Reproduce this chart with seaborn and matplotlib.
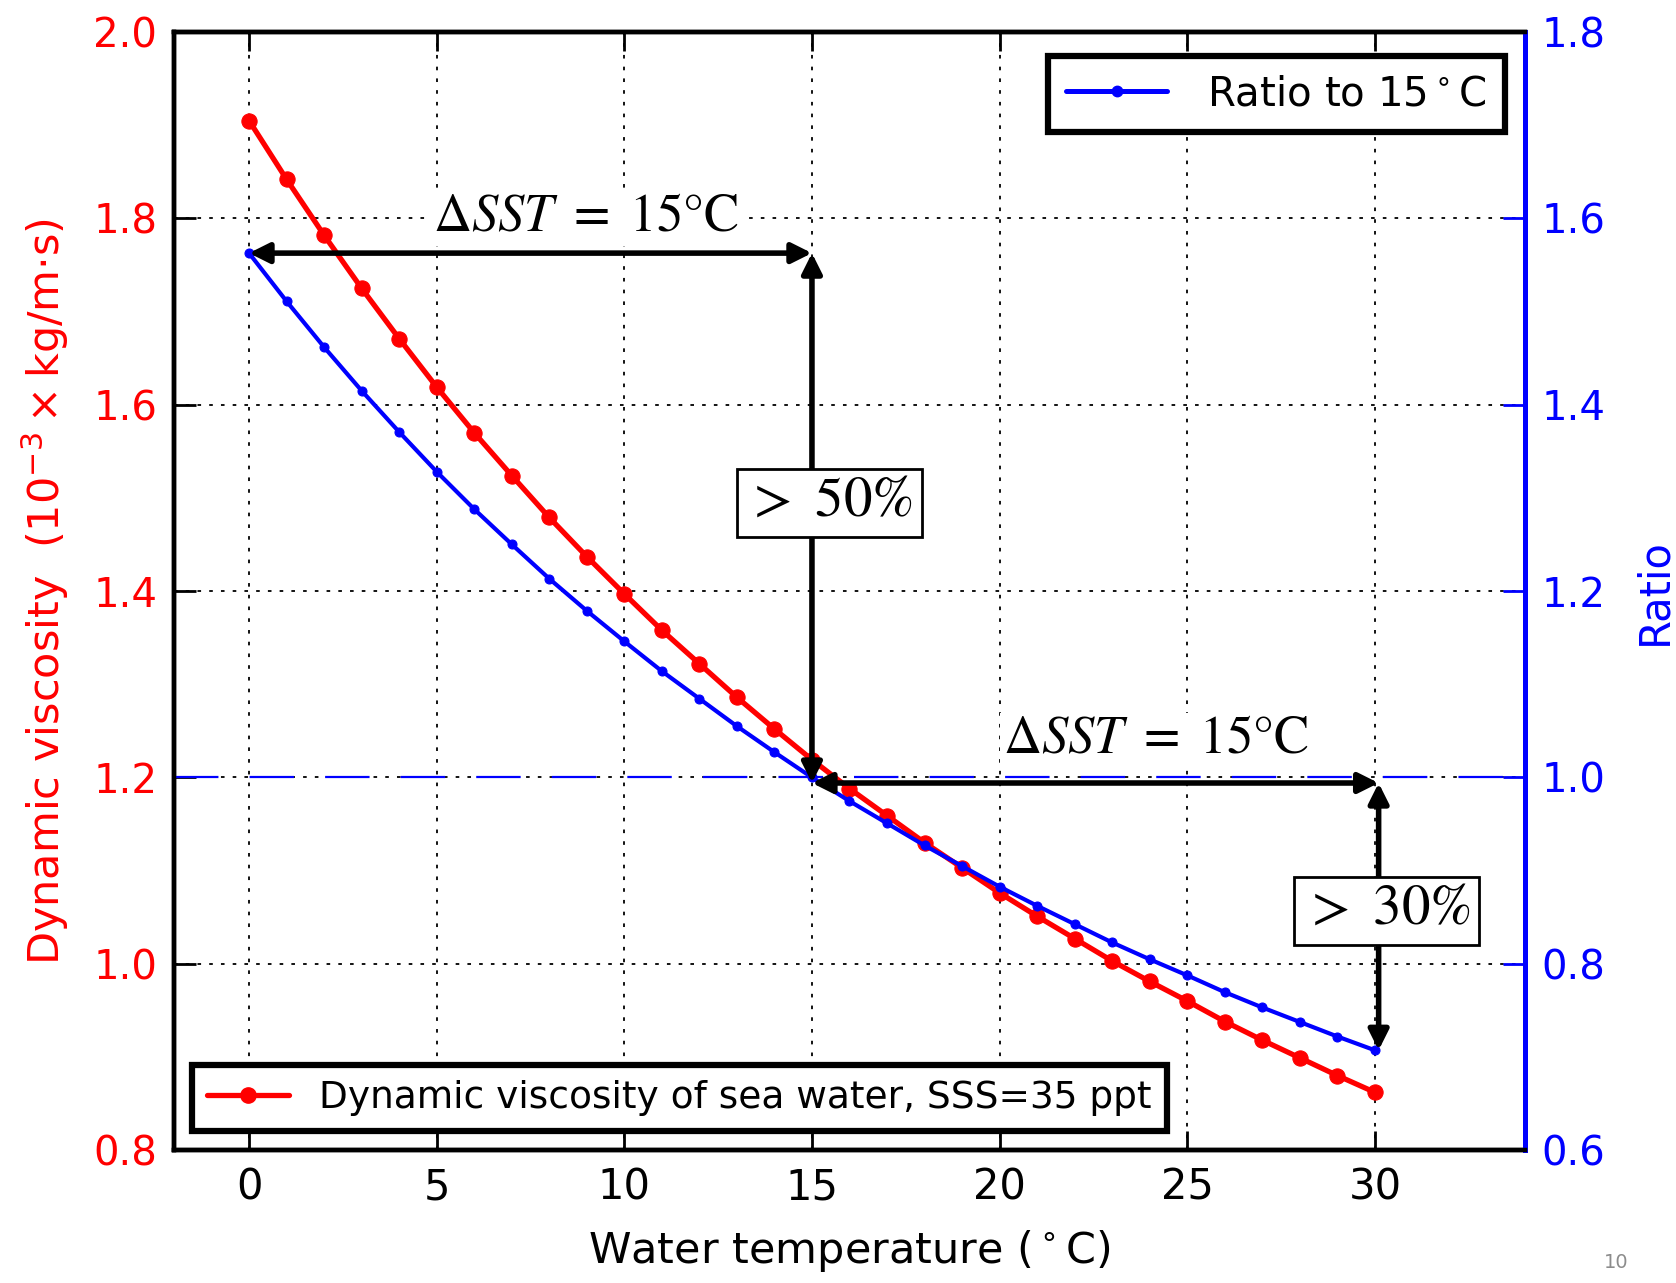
import numpy as np
import pandas as pd
import matplotlib
matplotlib.use("Agg")
import matplotlib.pyplot as plt
import seaborn as sns

# Water temperature (deg C) and dynamic viscosity of sea water at SSS = 35 ppt (1e-3 kg/m/s)
temperature = list(range(0, 31))
viscosity = [1.905, 1.842, 1.782, 1.725, 1.671, 1.619, 1.570, 1.524, 1.479, 1.437,
             1.397, 1.358, 1.322, 1.286, 1.252, 1.219, 1.188, 1.159, 1.130, 1.103,
             1.076, 1.051, 1.027, 1.003, 0.981, 0.960, 0.938, 0.918, 0.899, 0.880,
             0.862]
ref_temp = 15

visc_label = "Dynamic viscosity of sea water, SSS=35 ppt"
ratio_label = r"Ratio to 15$^\circ$C"
xticks = [0, 5, 10, 15, 20, 25, 30]
left_ticks = [0.8, 1.0, 1.2, 1.4, 1.6, 1.8, 2.0]
right_ticks = [0.6, 0.8, 1.0, 1.2, 1.4, 1.6, 1.8]

df = pd.DataFrame({"temp": temperature, "visc": viscosity})
df["ratio"] = df["visc"] / df.loc[df["temp"] == ref_temp, "visc"].iloc[0]

sns.set_style("white")
plt.rcParams["font.family"] = ["DejaVu Sans"]
plt.rcParams["text.color"] = "black"
plt.rcParams["axes.labelcolor"] = "black"
plt.rcParams["xtick.color"] = "black"
plt.rcParams["ytick.color"] = "black"

fig = plt.figure(figsize=(16.76, 12.83), dpi=100)
ax = fig.add_axes([0.1038, 0.1036, 0.8061, 0.8714])
ax2 = ax.twinx()

sns.lineplot(data=df, x="temp", y="visc", ax=ax, color="#ff0000", marker="o",
             markersize=11, markeredgecolor="#ff0000", linewidth=3.8, legend=False)
sns.lineplot(data=df, x="temp", y="ratio", ax=ax2, color="#0000ff", marker="o",
             markersize=6.5, markeredgecolor="#0000ff", linewidth=3.0, legend=False)

# reference level of the ratio
ax2.axhline(1.0, color="#0000ff", linewidth=1.6, linestyle=(0, (20, 14)), zorder=1)

ax.set_xlim(-2, 34)
ax.set_ylim(0.8, 2.0)
ax2.set_ylim(0.6, 1.8)
ax.set_xticks(xticks)
ax.set_yticks(left_ticks)
ax2.set_yticks(right_ticks)
ax.set_yticklabels([f"{v:.1f}" for v in left_ticks])
ax2.set_yticklabels([f"{v:.1f}" for v in right_ticks])

ax.grid(True, color="black", linestyle=(0, (2, 4.5)), linewidth=1.3)
ax.set_axisbelow(True)

ax.tick_params(axis="x", direction="in", length=14, width=2, top=True, bottom=True,
               labelsize=30, pad=12, colors="black", labelcolor="black")
ax.tick_params(axis="y", direction="in", length=16, width=2, left=True, right=False,
               labelsize=29, pad=12, colors="black", labelcolor="#ff0000")
ax2.tick_params(axis="y", direction="in", length=16, width=2, right=True,
                labelsize=29, pad=12, colors="#0000ff", labelcolor="#0000ff")

for a in (ax, ax2):
    for side in ("top", "bottom", "left"):
        a.spines[side].set_color("black")
        a.spines[side].set_linewidth(3.2)
    a.spines["right"].set_color("#0000ff")
    a.spines["right"].set_linewidth(3.6)

ax.set_xlabel(r"Water temperature ($^\circ$C)", fontsize=31, labelpad=14, color="black")
ax.set_ylabel(r"Dynamic viscosity  (10$^{-3}\times$kg/m$\cdot$s)", fontsize=31,
              color="#ff0000", labelpad=16)
ax2.set_ylabel("Ratio", fontsize=30, color="#0000ff", labelpad=20)

# arrows showing the 15 deg C temperature steps and the ratio change
r0 = df["ratio"].iloc[0]
r15 = df.loc[df["temp"] == ref_temp, "ratio"].iloc[0] - 0.006
r30 = df["ratio"].iloc[-1]
arrow = dict(arrowstyle="<|-|>", color="black", lw=4, mutation_scale=30,
             shrinkA=0, shrinkB=0)
ax2.annotate("", xy=(0, r0), xytext=(15, r0), arrowprops=arrow, zorder=6)
ax2.annotate("", xy=(15, r0), xytext=(15, r15), arrowprops=arrow, zorder=6)
ax2.annotate("", xy=(15, r15), xytext=(30.1, r15), arrowprops=arrow, zorder=6)
ax2.annotate("", xy=(30.1, r15), xytext=(30.1, r30), arrowprops=arrow, zorder=6)

serif = ["STIXGeneral", "DejaVu Serif"]
label_bg = dict(boxstyle="square,pad=0.05", facecolor="white", edgecolor="none")
for tx, ty in [(8.97, 1.60), (24.17, 1.04)]:
    ax2.text(tx, ty, r"$\Delta SST\ =\ 15$°C", fontsize=38, family=serif,
             math_fontfamily="stix", ha="center", va="center", bbox=label_bg, zorder=7)
box = dict(boxstyle="square,pad=0.15", facecolor="white", edgecolor="black", linewidth=2)
ax2.text(15.46, 1.295, r"$>$ 50%", fontsize=41, family=serif, math_fontfamily="stix",
         ha="center", va="center", bbox=box, zorder=8)
ax2.text(30.32, 0.857, r"$>$ 30%", fontsize=41, family=serif, math_fontfamily="stix",
         ha="center", va="center", bbox=box, zorder=8)

# legends
h1 = plt.Line2D([], [], color="#ff0000", marker="o", markersize=11, linewidth=3.8)
leg1 = ax2.legend([h1], [visc_label], loc="lower left", bbox_to_anchor=(0.0133, 0.017),
                  borderaxespad=0, fontsize=27, frameon=True, fancybox=False,
                  framealpha=1, handlelength=2.2, numpoints=1, borderpad=0.4,
                  handletextpad=0.8, labelcolor="black")
leg1.get_frame().set_edgecolor("black")
leg1.get_frame().set_linewidth(4.5)
leg1.set_zorder(10)
ax2.add_artist(leg1)
h2 = plt.Line2D([], [], color="#0000ff", marker="o", markersize=7.5, linewidth=3.6)
leg2 = ax2.legend([h2], [ratio_label], loc="upper right", bbox_to_anchor=(0.985, 0.9785),
                  borderaxespad=0, fontsize=29, frameon=True, fancybox=False,
                  framealpha=1, handlelength=2.5, numpoints=1, borderpad=0.45,
                  handletextpad=1.0, labelcolor="black")
leg2.get_frame().set_edgecolor("black")
leg2.get_frame().set_linewidth(4.5)
leg2.set_zorder(10)

fig.text(0.9642, 0.0156, "10", fontsize=14, color="#8c8c8c", ha="center", va="center")

fig.savefig("out.png", dpi=100, facecolor="white")
